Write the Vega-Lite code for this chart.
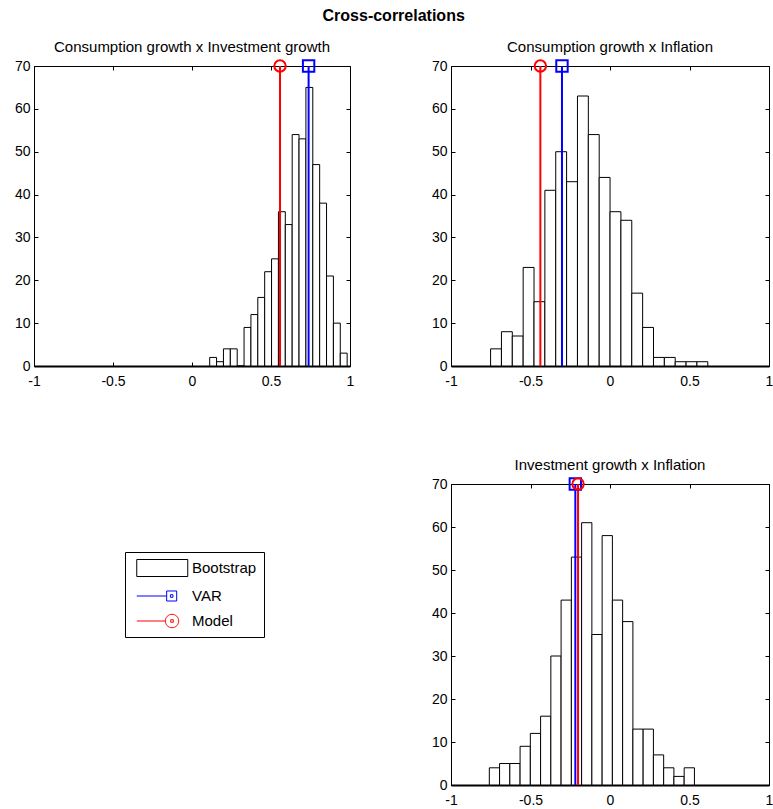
{
  "$schema": "https://vega.github.io/schema/vega-lite/v6.json",
  "background": "white",
  "padding": {"left": 13, "top": 7, "right": 0, "bottom": 0},
  "title": {"text": "Cross-correlations", "fontSize": 16, "fontWeight": "bold", "anchor": "middle", "offset": 16, "color": "black"},
  "datasets": {
    "hist": [
      {"panel": "p1", "series": "Bootstrap", "lo": 0.112, "hi": 0.1555, "count": 2},
      {"panel": "p1", "series": "Bootstrap", "lo": 0.1555, "hi": 0.199, "count": 1},
      {"panel": "p1", "series": "Bootstrap", "lo": 0.199, "hi": 0.2425, "count": 4},
      {"panel": "p1", "series": "Bootstrap", "lo": 0.2425, "hi": 0.286, "count": 4},
      {"panel": "p1", "series": "Bootstrap", "lo": 0.286, "hi": 0.3295, "count": 0},
      {"panel": "p1", "series": "Bootstrap", "lo": 0.3295, "hi": 0.373, "count": 9},
      {"panel": "p1", "series": "Bootstrap", "lo": 0.373, "hi": 0.4165, "count": 12},
      {"panel": "p1", "series": "Bootstrap", "lo": 0.4165, "hi": 0.46, "count": 16},
      {"panel": "p1", "series": "Bootstrap", "lo": 0.46, "hi": 0.5035, "count": 22},
      {"panel": "p1", "series": "Bootstrap", "lo": 0.5035, "hi": 0.547, "count": 25},
      {"panel": "p1", "series": "Bootstrap", "lo": 0.547, "hi": 0.5905, "count": 36},
      {"panel": "p1", "series": "Bootstrap", "lo": 0.5905, "hi": 0.634, "count": 33},
      {"panel": "p1", "series": "Bootstrap", "lo": 0.634, "hi": 0.6775, "count": 54},
      {"panel": "p1", "series": "Bootstrap", "lo": 0.6775, "hi": 0.721, "count": 53},
      {"panel": "p1", "series": "Bootstrap", "lo": 0.721, "hi": 0.7645, "count": 65},
      {"panel": "p1", "series": "Bootstrap", "lo": 0.7645, "hi": 0.808, "count": 47},
      {"panel": "p1", "series": "Bootstrap", "lo": 0.808, "hi": 0.8515, "count": 38},
      {"panel": "p1", "series": "Bootstrap", "lo": 0.8515, "hi": 0.895, "count": 21},
      {"panel": "p1", "series": "Bootstrap", "lo": 0.895, "hi": 0.9385, "count": 10},
      {"panel": "p1", "series": "Bootstrap", "lo": 0.9385, "hi": 0.982, "count": 3},
      {"panel": "p2", "series": "Bootstrap", "lo": -0.751, "hi": -0.6827, "count": 4},
      {"panel": "p2", "series": "Bootstrap", "lo": -0.6827, "hi": -0.6144, "count": 8},
      {"panel": "p2", "series": "Bootstrap", "lo": -0.6144, "hi": -0.5461, "count": 7},
      {"panel": "p2", "series": "Bootstrap", "lo": -0.5461, "hi": -0.4778, "count": 23},
      {"panel": "p2", "series": "Bootstrap", "lo": -0.4778, "hi": -0.4095, "count": 15},
      {"panel": "p2", "series": "Bootstrap", "lo": -0.4095, "hi": -0.3412, "count": 41},
      {"panel": "p2", "series": "Bootstrap", "lo": -0.3412, "hi": -0.2729, "count": 50},
      {"panel": "p2", "series": "Bootstrap", "lo": -0.2729, "hi": -0.2046, "count": 43},
      {"panel": "p2", "series": "Bootstrap", "lo": -0.2046, "hi": -0.1363, "count": 63},
      {"panel": "p2", "series": "Bootstrap", "lo": -0.1363, "hi": -0.068, "count": 54},
      {"panel": "p2", "series": "Bootstrap", "lo": -0.068, "hi": 0.0003, "count": 44},
      {"panel": "p2", "series": "Bootstrap", "lo": 0.0003, "hi": 0.0686, "count": 36},
      {"panel": "p2", "series": "Bootstrap", "lo": 0.0686, "hi": 0.1369, "count": 34},
      {"panel": "p2", "series": "Bootstrap", "lo": 0.1369, "hi": 0.2052, "count": 17},
      {"panel": "p2", "series": "Bootstrap", "lo": 0.2052, "hi": 0.2735, "count": 9},
      {"panel": "p2", "series": "Bootstrap", "lo": 0.2735, "hi": 0.3418, "count": 2},
      {"panel": "p2", "series": "Bootstrap", "lo": 0.3418, "hi": 0.4101, "count": 2},
      {"panel": "p2", "series": "Bootstrap", "lo": 0.4101, "hi": 0.4784, "count": 1},
      {"panel": "p2", "series": "Bootstrap", "lo": 0.4784, "hi": 0.5467, "count": 1},
      {"panel": "p2", "series": "Bootstrap", "lo": 0.5467, "hi": 0.615, "count": 1},
      {"panel": "p3", "series": "Bootstrap", "lo": -0.759, "hi": -0.6945, "count": 4},
      {"panel": "p3", "series": "Bootstrap", "lo": -0.6945, "hi": -0.63, "count": 5},
      {"panel": "p3", "series": "Bootstrap", "lo": -0.63, "hi": -0.5655, "count": 5},
      {"panel": "p3", "series": "Bootstrap", "lo": -0.5655, "hi": -0.501, "count": 9},
      {"panel": "p3", "series": "Bootstrap", "lo": -0.501, "hi": -0.4365, "count": 12},
      {"panel": "p3", "series": "Bootstrap", "lo": -0.4365, "hi": -0.372, "count": 16},
      {"panel": "p3", "series": "Bootstrap", "lo": -0.372, "hi": -0.3075, "count": 30},
      {"panel": "p3", "series": "Bootstrap", "lo": -0.3075, "hi": -0.243, "count": 43},
      {"panel": "p3", "series": "Bootstrap", "lo": -0.243, "hi": -0.1785, "count": 53},
      {"panel": "p3", "series": "Bootstrap", "lo": -0.1785, "hi": -0.114, "count": 61},
      {"panel": "p3", "series": "Bootstrap", "lo": -0.114, "hi": -0.0495, "count": 35},
      {"panel": "p3", "series": "Bootstrap", "lo": -0.0495, "hi": 0.015, "count": 58},
      {"panel": "p3", "series": "Bootstrap", "lo": 0.015, "hi": 0.0795, "count": 43},
      {"panel": "p3", "series": "Bootstrap", "lo": 0.0795, "hi": 0.144, "count": 38},
      {"panel": "p3", "series": "Bootstrap", "lo": 0.144, "hi": 0.2085, "count": 13},
      {"panel": "p3", "series": "Bootstrap", "lo": 0.2085, "hi": 0.273, "count": 13},
      {"panel": "p3", "series": "Bootstrap", "lo": 0.273, "hi": 0.3375, "count": 7},
      {"panel": "p3", "series": "Bootstrap", "lo": 0.3375, "hi": 0.402, "count": 4},
      {"panel": "p3", "series": "Bootstrap", "lo": 0.402, "hi": 0.4665, "count": 2},
      {"panel": "p3", "series": "Bootstrap", "lo": 0.4665, "hi": 0.531, "count": 4}
    ],
    "stems": [
      {"panel": "p1", "series": "VAR", "value": 0.738},
      {"panel": "p1", "series": "Model", "value": 0.557},
      {"panel": "p2", "series": "VAR", "value": -0.302},
      {"panel": "p2", "series": "Model", "value": -0.438},
      {"panel": "p3", "series": "VAR", "value": -0.218},
      {"panel": "p3", "series": "Model", "value": -0.201}
    ]
  },
  "columns": 2,
  "spacing": {"row": 118, "column": 101},
  "bounds": "flush",
  "concat": [
    {
      "width": 316, "height": 300,
      "title": "Consumption growth x Investment growth",
      "layer": [
        {
          "data": {"name": "hist"},
          "transform": [{"filter": "datum.panel === 'p1'"}],
          "mark": {"type": "rect", "fill": "white", "strokeWidth": 1},
          "encoding": {
            "x": {"field": "lo", "type": "quantitative", "scale": {"domain": [-1, 1], "nice": false}, "axis": {"orient": "bottom", "values": [-1, -0.5, 0, 0.5, 1], "labelExpr": "'' + datum.value", "domainWidth": 2}},
            "x2": {"field": "hi"},
            "y": {"field": "count", "type": "quantitative", "scale": {"domain": [0, 70], "nice": false}, "axis": {"orient": "left", "values": [0, 10, 20, 30, 40, 50, 60, 70]}},
            "y2": {"datum": 0},
            "stroke": {"field": "series", "type": "nominal", "scale": {"domain": ["Bootstrap", "VAR", "Model"], "range": ["black", "#0000ff", "#ff0000"]},
              "legend": {"title": null, "orient": "none", "legendX": 91, "legendY": 486, "symbolSize": 289, "symbolStrokeWidth": 1, "symbolFillColor": "white", "labelOffset": 42, "rowPadding": 8, "padding": 7, "strokeColor": "black", "fillColor": "white", "labelFontSize": 15, "labelColor": "black",
                "symbolType": {"expr": "datum.value === 'VAR' ? 'M-0.5,0H3.02M3.02,-0.59H4.2V0.59H3.02ZM3.46,-0.15H3.76V0.15H3.46Z' : datum.value === 'Model' ? 'M-0.5,0H2.86M2.86,0A0.79,0.79 0 1,0 4.44,0A0.79,0.79 0 1,0 2.86,0ZM3.5,-0.15H3.8V0.15H3.5Z' : 'M-0.5,-1H5.5V1H-0.5Z'"}}}
          }
        },
        {
          "data": {"name": "stems"},
          "transform": [{"filter": "datum.panel === 'p1'"}],
          "mark": {"type": "rule", "strokeWidth": 2},
          "encoding": {
            "x": {"field": "value", "type": "quantitative", "axis": null},
            "y": {"datum": 0, "type": "quantitative", "axis": null},
            "y2": {"datum": 70},
            "color": {"field": "series", "type": "nominal", "scale": {"domain": ["VAR", "Model"], "range": ["#0000ff", "#ff0000"]}, "legend": null}
          }
        },
        {
          "data": {"name": "stems"},
          "transform": [{"filter": "datum.panel === 'p1'"}],
          "mark": {"type": "point", "filled": false, "strokeWidth": 2, "size": 130, "opacity": 1},
          "encoding": {
            "x": {"field": "value", "type": "quantitative", "axis": {"orient": "top", "labels": false, "values": [-1, -0.5, 0, 0.5, 1], "domain": false}},
            "y": {"datum": 70, "type": "quantitative", "axis": {"orient": "right", "labels": false, "values": [0, 10, 20, 30, 40, 50, 60, 70], "domain": false}},
            "color": {"field": "series", "type": "nominal", "legend": null},
            "shape": {"field": "series", "type": "nominal", "scale": {"domain": ["VAR", "Model"], "range": ["square", "circle"]}, "legend": null}
          }
        }
      ],
      "resolve": {"axis": {"x": "independent", "y": "independent"}}
    },
    {
      "width": 318, "height": 300,
      "title": "Consumption growth x Inflation",
      "layer": [
        {
          "data": {"name": "hist"},
          "transform": [{"filter": "datum.panel === 'p2'"}],
          "mark": {"type": "rect", "fill": "white", "strokeWidth": 1},
          "encoding": {
            "x": {"field": "lo", "type": "quantitative", "scale": {"domain": [-1, 1], "nice": false}, "axis": {"orient": "bottom", "values": [-1, -0.5, 0, 0.5, 1], "labelExpr": "'' + datum.value", "domainWidth": 2}},
            "x2": {"field": "hi"},
            "y": {"field": "count", "type": "quantitative", "scale": {"domain": [0, 70], "nice": false}, "axis": {"orient": "left", "values": [0, 10, 20, 30, 40, 50, 60, 70]}},
            "y2": {"datum": 0},
            "stroke": {"field": "series", "type": "nominal"}
          }
        },
        {
          "data": {"name": "stems"},
          "transform": [{"filter": "datum.panel === 'p2'"}],
          "mark": {"type": "rule", "strokeWidth": 2},
          "encoding": {
            "x": {"field": "value", "type": "quantitative", "axis": null},
            "y": {"datum": 0, "type": "quantitative", "axis": null},
            "y2": {"datum": 70},
            "color": {"field": "series", "type": "nominal", "legend": null}
          }
        },
        {
          "data": {"name": "stems"},
          "transform": [{"filter": "datum.panel === 'p2'"}],
          "mark": {"type": "point", "filled": false, "strokeWidth": 2, "size": 130, "opacity": 1},
          "encoding": {
            "x": {"field": "value", "type": "quantitative", "axis": {"orient": "top", "labels": false, "values": [-1, -0.5, 0, 0.5, 1], "domain": false}},
            "y": {"datum": 70, "type": "quantitative", "axis": {"orient": "right", "labels": false, "values": [0, 10, 20, 30, 40, 50, 60, 70], "domain": false}},
            "color": {"field": "series", "type": "nominal", "legend": null},
            "shape": {"field": "series", "type": "nominal", "legend": null}
          }
        }
      ],
      "resolve": {"axis": {"x": "independent", "y": "independent"}}
    },
    {
      "width": 316, "height": 300,
      "view": {"stroke": null},
      "data": {"values": [{"panel": "legend"}]},
      "mark": {"type": "point", "opacity": 0},
      "encoding": {}
    },
    {
      "width": 318, "height": 301,
      "title": "Investment growth x Inflation",
      "layer": [
        {
          "data": {"name": "hist"},
          "transform": [{"filter": "datum.panel === 'p3'"}],
          "mark": {"type": "rect", "fill": "white", "strokeWidth": 1},
          "encoding": {
            "x": {"field": "lo", "type": "quantitative", "scale": {"domain": [-1, 1], "nice": false}, "axis": {"orient": "bottom", "values": [-1, -0.5, 0, 0.5, 1], "labelExpr": "'' + datum.value", "domainWidth": 2}},
            "x2": {"field": "hi"},
            "y": {"field": "count", "type": "quantitative", "scale": {"domain": [0, 70], "nice": false}, "axis": {"orient": "left", "values": [0, 10, 20, 30, 40, 50, 60, 70]}},
            "y2": {"datum": 0},
            "stroke": {"field": "series", "type": "nominal"}
          }
        },
        {
          "data": {"name": "stems"},
          "transform": [{"filter": "datum.panel === 'p3'"}],
          "mark": {"type": "rule", "strokeWidth": 2},
          "encoding": {
            "x": {"field": "value", "type": "quantitative", "axis": null},
            "y": {"datum": 0, "type": "quantitative", "axis": null},
            "y2": {"datum": 70},
            "color": {"field": "series", "type": "nominal", "legend": null}
          }
        },
        {
          "data": {"name": "stems"},
          "transform": [{"filter": "datum.panel === 'p3'"}],
          "mark": {"type": "point", "filled": false, "strokeWidth": 2, "size": 130, "opacity": 1},
          "encoding": {
            "x": {"field": "value", "type": "quantitative", "axis": {"orient": "top", "labels": false, "values": [-1, -0.5, 0, 0.5, 1], "domain": false}},
            "y": {"datum": 70, "type": "quantitative", "axis": {"orient": "right", "labels": false, "values": [0, 10, 20, 30, 40, 50, 60, 70], "domain": false}},
            "color": {"field": "series", "type": "nominal", "legend": null},
            "shape": {"field": "series", "type": "nominal", "legend": null}
          }
        }
      ],
      "resolve": {"axis": {"x": "independent", "y": "independent"}}
    }
  ],
  "config": {
    "font": "Liberation Sans",
    "view": {"stroke": "black", "strokeWidth": 1},
    "axis": {"title": null, "grid": false, "tickSize": -4, "tickColor": "black", "domainColor": "black", "labelColor": "black", "labelFontSize": 14, "labelFlush": false, "labelOverlap": false},
    "axisX": {"labelPadding": 12},
    "axisY": {"labelPadding": 8},
    "title": {"fontSize": 15, "fontWeight": "normal", "color": "black", "offset": 1}
  }
}
